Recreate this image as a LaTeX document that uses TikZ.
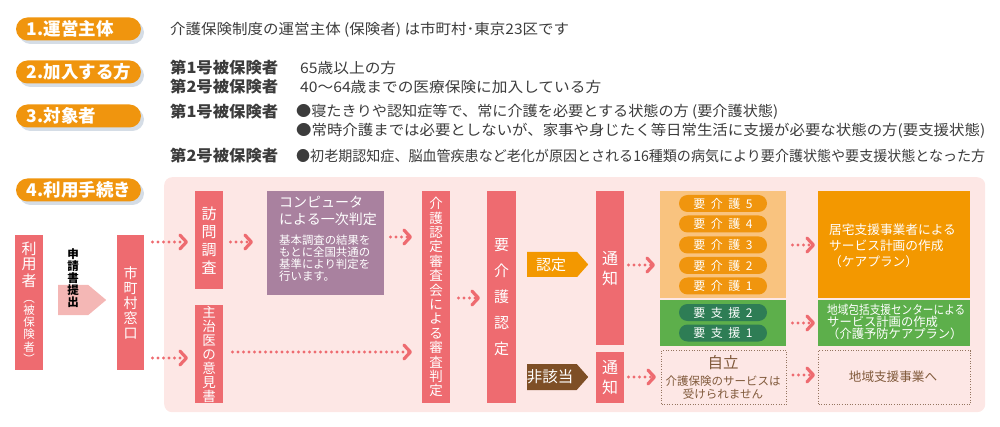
\documentclass[tikz,border=0pt]{standalone}
\usepackage{fontspec}
\usepackage{graphicx}
\setmainfont{Noto Sans CJK JP}
\usetikzlibrary{arrows.meta,shapes.symbols,shadows}
\definecolor{sal}{HTML}{EE6B70}
\definecolor{bgp}{HTML}{FDE7E5}
\definecolor{pinkarr}{HTML}{F4B7B5}
\definecolor{mauve}{HTML}{A9819F}
\definecolor{orng}{HTML}{F39800}
\definecolor{lorng}{HTML}{F9C37F}
\definecolor{grn}{HTML}{5DAF4B}
\definecolor{dgrn}{HTML}{2E7D55}
\definecolor{brn}{HTML}{7E4F26}
\definecolor{txtbrn}{HTML}{80593A}
\definecolor{dotc}{HTML}{957560}
\definecolor{pillor}{HTML}{F0950E}
\definecolor{shadowc}{HTML}{D5DDE6}
\definecolor{txt}{HTML}{3C3C3C}
\newcommand{\fw}[2]{\resizebox{#1pt}{\height}{#2}}
\newcommand{\gp}{\hspace{5.5pt}}
\newcommand{\bigc}[1]{{\fontsize{15}{15}\selectfont #1}}
\begin{document}
\begin{tikzpicture}[x=1pt,y=-1pt,
  lbl/.style={fill=pillor, text=white, rounded corners=11.5pt, minimum width=125pt, minimum height=23pt,
    inner sep=0pt, font=\fontsize{17.5}{17.5}\selectfont\bfseries, text width=103pt, align=left,
    drop shadow={shadow xshift=3pt, shadow yshift=-3.5pt, fill=shadowc, opacity=1}},
  head/.style={anchor=west, inner sep=0pt, text=txt, font=\fontsize{15.5}{16}\selectfont\bfseries},
  body/.style={anchor=west, inner sep=0pt, text=txt, font=\fontsize{14.5}{15}\selectfont},
  box/.style={fill=sal, inner sep=0pt, text=white, anchor=north west, align=center},
  pill/.style={rounded corners=8.5pt, minimum width=88pt, minimum height=17pt, inner sep=0pt, text=white,
    font=\fontsize{12}{12}\selectfont},
  dotbox/.style={draw=dotc, line width=1pt, dash pattern=on 1pt off 1.6pt, inner sep=0pt, anchor=north west},
  con/.style={draw=sal, line width=3.2pt, line cap=round, dash pattern=on 0pt off 5.5pt,
    -{Straight Barb[length=6.5pt,width=14pt,round]}, shorten <=8pt, shorten >=7pt}
]
\useasboundingbox (0,0) rectangle (1000,427);

% ---- section labels
\node[lbl] (L1) at (78.5,29) {1.運営主体};
\node[lbl] (L2) at (78.5,72) {2.加入する方};
\node[lbl] (L3) at (78.5,116) {3.対象者};
\node[lbl] (L4) at (78.5,190) {4.利用手続き};

% ---- top texts
\node[body] (r1) at (170,30) {\fw{399}{介護保険制度の運営主体 (保険者) は市町村･東京23区です}};
\node[head] (h2) at (170,68) {\fw{108}{第1号被保険者}};
\node[body] (r2) at (300,68) {\fw{96}{65歳以上の方}};
\node[head] (h3) at (170,87) {\fw{108}{第2号被保険者}};
\node[body] (r3) at (300,87) {\fw{301}{40～64歳までの医療保険に加入している方}};
\node[head] (h4) at (170,112) {\fw{108}{第1号被保険者}};
\node[body] (r4) at (296,112) {\fw{482}{●寝たきりや認知症等で、常に介護を必要とする状態の方 (要介護状態)}};
\node[body] (r5) at (296,131) {\fw{689}{●常時介護までは必要としないが、家事や身じたく等日常生活に支援が必要な状態の方(要支援状態)}};
\node[head] (h6) at (170,156) {\fw{108}{第2号被保険者}};
\node[body] (r6) at (296,156) {\fw{689}{●初老期認知症、脳血管疾患など老化が原因とされる16種類の病気により要介護状態や要支援状態となった方}};

% ---- panel
\node[fill=bgp, rounded corners=8pt, minimum width=821pt, minimum height=235pt, anchor=north west, inner sep=0pt] (panel) at (164,177) {};

% ---- left part
\node[box, minimum width=28pt, minimum height=135pt, font=\fontsize{11.5}{12.2}\selectfont] (user) at (15,235)
  {\bigc{利}\\[1.5pt]\bigc{用}\\[1.5pt]\bigc{者}\\[4pt]︵\\被\\保\\険\\者\\︶};

\node[signal, signal to=east, signal pointer angle=80, fill=pinkarr, minimum width=48pt, minimum height=30pt, inner sep=0pt, anchor=west] (appl) at (58,300) {};
\node[text=black, inner sep=0pt, align=center, font=\fontsize{11.5}{12}\selectfont\bfseries] (applT) at (73,278) {申\\請\\書\\提\\出};

\node[box, minimum width=27pt, minimum height=135pt, font=\fontsize{14}{15}\selectfont] (mado) at (117,235) {市\\町\\村\\窓\\口};

\node[box, minimum width=28pt, minimum height=98pt, font=\fontsize{15}{18}\selectfont] (houmon) at (195,191) {訪\\問\\調\\査};
\node[box, minimum width=28pt, minimum height=98pt, font=\fontsize{13.5}{14}\selectfont] (shujii) at (195,305) {主\\治\\医\\の\\意\\見\\書};

\node[box, fill=mauve, minimum width=117pt, minimum height=104pt] (comp) at (267,191) {};
\node[anchor=north west, inner sep=0pt, text=white, align=left, font=\fontsize{14}{17}\selectfont] (compH) at (279,196) {コンピュータ\\による一次判定};
\node[anchor=north west, inner sep=0pt, text=white, align=left, font=\fontsize{11.4}{11.8}\selectfont] (compB) at (279,235) {基本調査の結果を\\もとに全国共通の\\基準により判定を\\行います。};

\node[box, minimum width=28pt, minimum height=212pt, font=\fontsize{13.5}{14.4}\selectfont] (shinsa) at (422,191) {介\\護\\認\\定\\審\\査\\会\\に\\よ\\る\\審\\査\\判\\定};
\node[box, minimum width=29pt, minimum height=212pt, font=\fontsize{15}{26}\selectfont] (youkaigo) at (487,191) {要\\介\\護\\認\\定};

\node[signal, signal to=east, signal pointer angle=97, fill=orng, minimum width=61pt, minimum height=25pt, inner sep=0pt, anchor=west] (nintei) at (527,264.5) {};
\node[text=white, inner sep=0pt, font=\fontsize{15}{15}\selectfont] (ninteiT) at (551,264.5) {認定};
\node[signal, signal to=east, signal pointer angle=97, fill=brn, minimum width=61pt, minimum height=26pt, inner sep=0pt, anchor=west] (higai) at (527,377) {};
\node[text=white, inner sep=0pt, font=\fontsize{15.5}{15.5}\selectfont] (higaiT) at (550,377) {非該当};

\node[box, minimum width=28pt, minimum height=154pt, font=\fontsize{16}{20}\selectfont] (tsu1) at (596,191) {通\\知};
\node[box, minimum width=28pt, minimum height=51pt, font=\fontsize{16}{20}\selectfont] (tsu2) at (596,352) {通\\知};

% ---- levels
\node[box, fill=lorng, minimum width=126pt, minimum height=107pt] (kaigo) at (660,191) {};
\node[pill, fill=pillor] (k5) at (723,203.5) {要\gp 介\gp 護\gp 5};
\node[pill, fill=pillor] (k4) at (723,224) {要\gp 介\gp 護\gp 4};
\node[pill, fill=pillor] (k3) at (723,245) {要\gp 介\gp 護\gp 3};
\node[pill, fill=pillor] (k2) at (723,265.5) {要\gp 介\gp 護\gp 2};
\node[pill, fill=pillor] (k1) at (723,286) {要\gp 介\gp 護\gp 1};
\node[box, fill=grn, minimum width=126pt, minimum height=46pt] (shien) at (660,300) {};
\node[pill, fill=dgrn] (s2) at (723,312.5) {要\gp 支\gp 援\gp 2};
\node[pill, fill=dgrn] (s1) at (723,333) {要\gp 支\gp 援\gp 1};
\node[dotbox, minimum width=125pt, minimum height=54pt] (jiritsu) at (661,350) {};
\node[text=txtbrn, inner sep=0pt, font=\fontsize{15.5}{15.5}\selectfont] (jiritsuA) at (723,363) {自立};
\node[text=txtbrn, inner sep=0pt, align=center, font=\fontsize{11.5}{13}\selectfont] (jiritsuB) at (723,387.5) {介護保険のサービスは\\受けられません};

% ---- plans
\node[box, fill=orng, minimum width=152pt, minimum height=107pt] (kyotaku) at (818,191) {};
\node[anchor=west, inner sep=0pt, text=white, align=left, font=\fontsize{12.7}{16}\selectfont] (kyotakuT) at (829,246) {居宅支援事業者による\\サービス計画の作成\\（ケアプラン）};
\node[box, fill=grn, minimum width=152pt, minimum height=46pt] (houkatsu) at (818,300) {};
\node[anchor=west, inner sep=0pt, text=white, align=left, font=\fontsize{12.3}{11.8}\selectfont] (houkatsuT) at (827,322) {\fw{138}{地域包括支援センターによる}\\サービス計画の作成\\（介護予防ケアプラン）};
\node[dotbox, minimum width=152pt, minimum height=54pt] (chiiki) at (818,350) {};
\node[text=txtbrn, inner sep=0pt, font=\fontsize{12.6}{13}\selectfont] (chiikiT) at (893,377) {地域支援事業へ};

% ---- connectors
\draw[con] (mado.east |- 0,242) -- (houmon.west |- 0,242);
\draw[con] (mado.east |- 0,358) -- (shujii.west |- 0,358);
\draw[con, shorten <=7pt, shorten >=14pt] (houmon.east |- 0,242) -- (comp.west |- 0,242);
\draw[con, shorten <=6pt, shorten >=10pt] (comp.east |- 0,237) -- (shinsa.west |- 0,237);
\draw[con, shorten <=9pt, shorten >=10pt] (shujii.east |- 0,352) -- (shinsa.west |- 0,352);
\draw[con] (shinsa.east |- 0,298) -- (youkaigo.west |- 0,298);
\draw[con, shorten <=4pt, shorten >=5pt] (tsu1.east |- 0,265) -- (kaigo.west |- 0,265);
\draw[con, shorten <=4pt, shorten >=5pt] (tsu2.east |- 0,377) -- (jiritsu.west |- 0,377);
\draw[con, shorten <=6pt, shorten >=3pt] (kaigo.east |- 0,245) -- (kyotaku.west |- 0,245);
\draw[con, shorten <=6pt, shorten >=3pt] (shien.east |- 0,323) -- (houkatsu.west |- 0,323);
\draw[con, shorten <=6pt, shorten >=3pt] (jiritsu.east |- 0,375) -- (chiiki.west |- 0,375);
\end{tikzpicture}
\end{document}
